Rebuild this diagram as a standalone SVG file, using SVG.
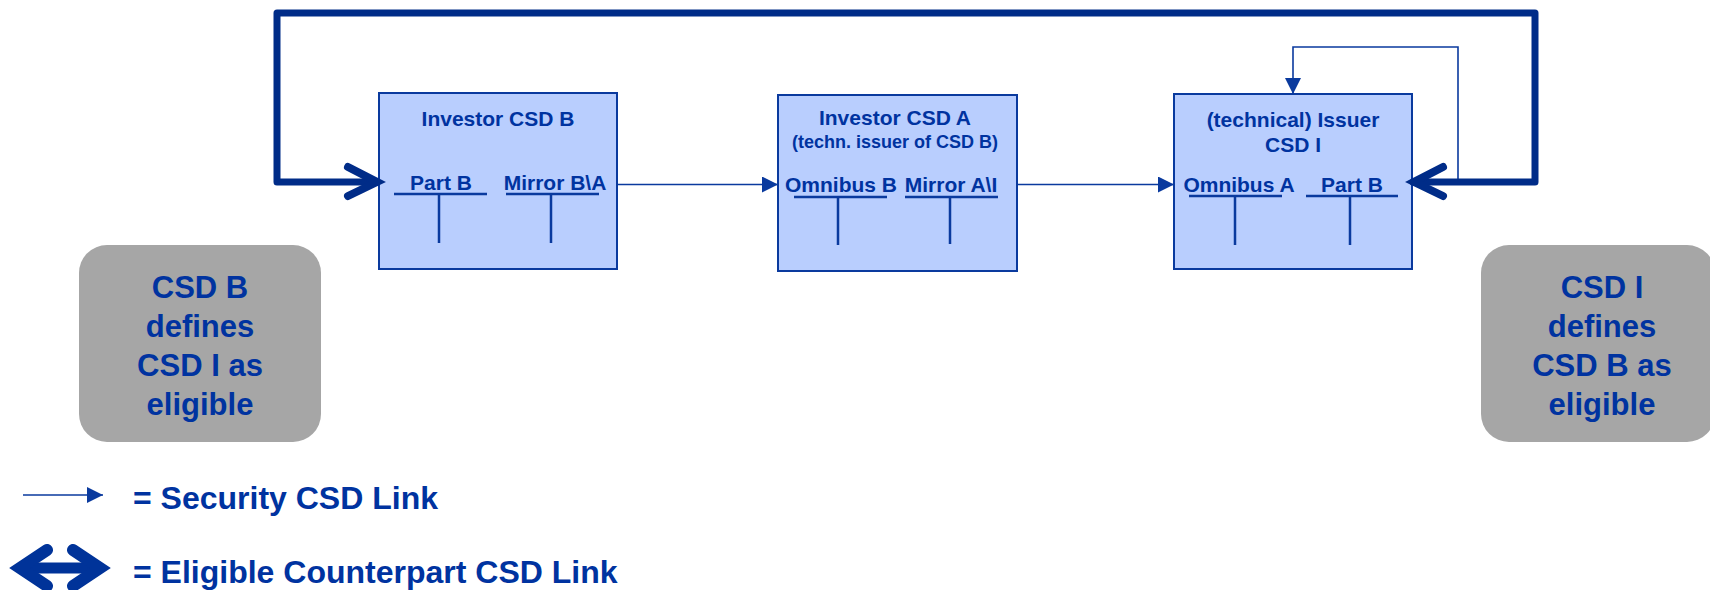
<svg xmlns="http://www.w3.org/2000/svg" width="1710" height="590" viewBox="0 0 1710 590">
<style>
text{font-family:"Liberation Sans",Arial,sans-serif;font-weight:bold;fill:#0033A0}
.box{fill:#B9CEFE;stroke:#0A3A9E;stroke-width:2}
.t{font-size:21px;text-anchor:middle}
.s{font-size:18px;text-anchor:middle}
.acc{stroke:#0A3A9E;stroke-width:2.5;fill:none}
.gray{fill:#A6A6A6}
.g{font-size:31px;text-anchor:middle}
.thin{stroke:#0A3A9E;stroke-width:1.6;fill:none}
.thick{stroke:#002C88;stroke-width:7;fill:none;stroke-linejoin:round;stroke-linecap:round}
.chev{stroke:#002C88;stroke-width:8;fill:none;stroke-linejoin:miter;stroke-linecap:round}
.leg{font-size:32px}
</style>
<defs>
<marker id="ah2" markerWidth="16" markerHeight="16" refX="16" refY="8" orient="auto" markerUnits="userSpaceOnUse" viewBox="0 0 16 16">
<path d="M0,0 L16,8 L0,16 z" fill="#0A3A9E"/>
</marker>
</defs>

<g id="csdB">
<rect class="box" x="379" y="93" width="238" height="176"/>
<text class="t" x="498" y="126">Investor CSD B</text>
<text class="t" x="441" y="190">Part B</text>
<text class="t" x="555" y="190">Mirror B\A</text>
<path class="acc" d="M394,194 H487 M439,194 V243 M506,194 H599 M551,194 V243"/>
</g>

<g id="csdA">
<rect class="box" x="778" y="95" width="239" height="176"/>
<text class="t" x="895" y="125">Investor CSD A</text>
<text class="s" x="895" y="148">(techn. issuer of CSD B)</text>
<text class="t" x="841" y="192">Omnibus B</text>
<text class="t" x="951" y="192">Mirror A\I</text>
<path class="acc" d="M794,197 H887 M838,197 V245 M905,197 H998 M950,197 V244"/>
</g>

<g id="csdI">
<rect class="box" x="1174" y="94" width="238" height="175"/>
<text class="t" x="1293" y="127">(technical) Issuer</text>
<text class="t" x="1293" y="152">CSD I</text>
<text class="t" x="1239" y="192">Omnibus A</text>
<text class="t" x="1352" y="192">Part B</text>
<path class="acc" d="M1189,196 H1282 M1235,196 V245 M1306,196 H1398 M1350,196 V245"/>
</g>

<g id="noteB">
<rect class="gray" x="79" y="245" width="242" height="197" rx="28"/>
<text class="g" x="200" y="298">CSD B</text>
<text class="g" x="200" y="337">defines</text>
<text class="g" x="200" y="376">CSD I as</text>
<text class="g" x="200" y="415">eligible</text>
</g>

<g id="noteI">
<rect class="gray" x="1481" y="245" width="234" height="197" rx="28"/>
<text class="g" x="1602" y="298">CSD I</text>
<text class="g" x="1602" y="337">defines</text>
<text class="g" x="1602" y="376">CSD B as</text>
<text class="g" x="1602" y="415">eligible</text>
</g>

<g id="connectors">
<path class="thin" d="M617,184.5 H778" marker-end="url(#ah2)"/>
<path class="thin" d="M1017,184.5 H1174" marker-end="url(#ah2)"/>
<path class="thin" d="M1458,182 V47 H1293 V94" marker-end="url(#ah2)"/>
<path class="thick" d="M1413,182 H1535 V13 H277 V182 H376"/>
<path class="chev" d="M348,167 L377,182 L348,196"/>
<path class="chev" d="M1443,167 L1414,182 L1443,196"/>
</g>

<g id="legend">
<path class="thin" d="M23,495 H103" marker-end="url(#ah2)"/>
<text class="leg" x="133" y="509">= Security CSD Link</text>
<path stroke="#003399" stroke-width="11" fill="none" d="M20,568 H100"/>
<path stroke="#003399" stroke-width="12" fill="none" stroke-linecap="round" stroke-linejoin="miter" stroke-miterlimit="10" d="M47,550 L20,568 L47,586 M73,550 L100,568 L73,586"/>
<text class="leg" x="133" y="583">= Eligible Counterpart CSD Link</text>
</g>
</svg>
